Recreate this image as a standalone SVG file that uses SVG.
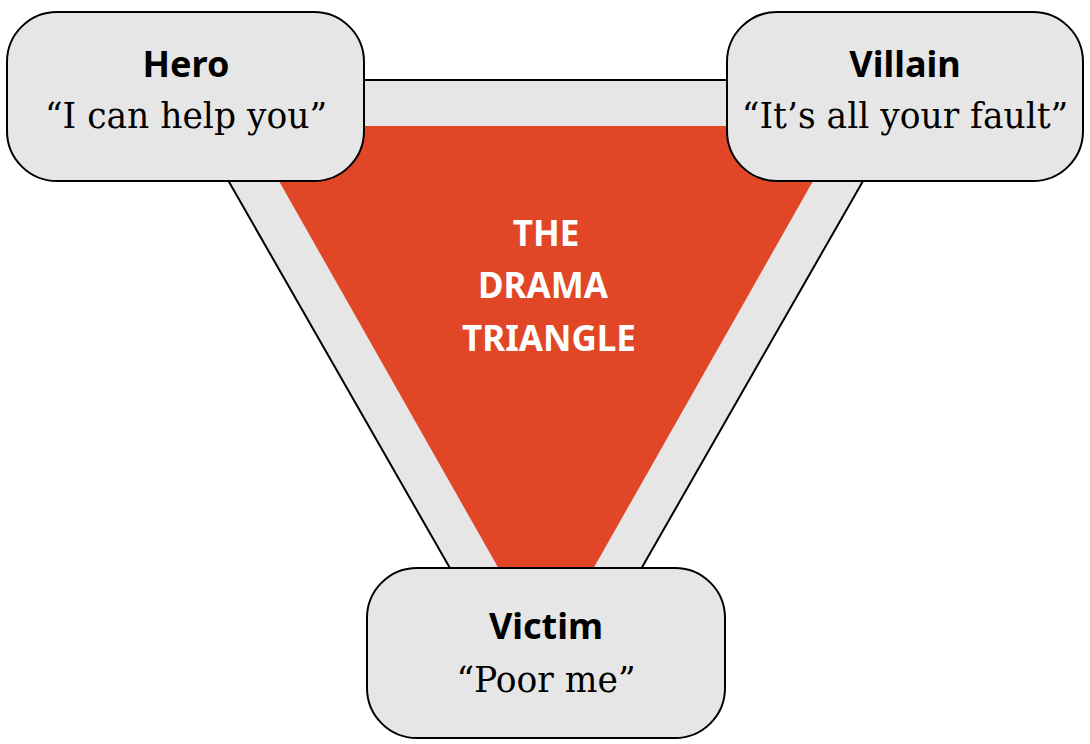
<svg xmlns="http://www.w3.org/2000/svg" width="1090" height="744" viewBox="0 0 1090 744">
<style>
.box{fill:#e6e6e6;stroke:#000;stroke-width:2}
.title{font-family:"Noto Sans","DejaVu Sans",sans-serif;font-weight:bold;font-size:36px;fill:#000;text-anchor:middle}
.quote{font-family:"DejaVu Serif","Liberation Serif",serif;font-size:34.5px;fill:#000;text-anchor:middle}
.center{font-family:"Noto Sans","DejaVu Sans",sans-serif;font-weight:bold;font-size:35px;fill:#fff;text-anchor:middle}
</style>
<rect width="1090" height="744" fill="#fff"/>
<g id="triangle">
<polygon points="170.7,80 920.8,80 545.75,735.6" fill="#e6e6e6" stroke="#000" stroke-width="2"/>
<polygon points="247.8,126 844.2,126 546,652" fill="#e14627"/>
<text class="center" x="546" y="246">THE</text>
<text class="center" x="543" y="298">DRAMA</text>
<text class="center" x="549" y="351">TRIANGLE</text>
</g>
<g id="connectors"></g>
<g id="hero">
<rect class="box" x="7" y="12" width="357" height="169" rx="50"/>
<text class="title" x="186" y="77">Hero</text>
<text class="quote" x="186" y="128">“I can help you”</text>
</g>
<g id="villain">
<rect class="box" x="727" y="12" width="356" height="169" rx="50"/>
<text class="title" x="905" y="77">Villain</text>
<text class="quote" x="905" y="128">“It’s all your fault”</text>
</g>
<g id="victim">
<rect class="box" x="367" y="568" width="358" height="170" rx="50"/>
<text class="title" x="546" y="639">Victim</text>
<text class="quote" x="546" y="692">“Poor me”</text>
</g>
</svg>
